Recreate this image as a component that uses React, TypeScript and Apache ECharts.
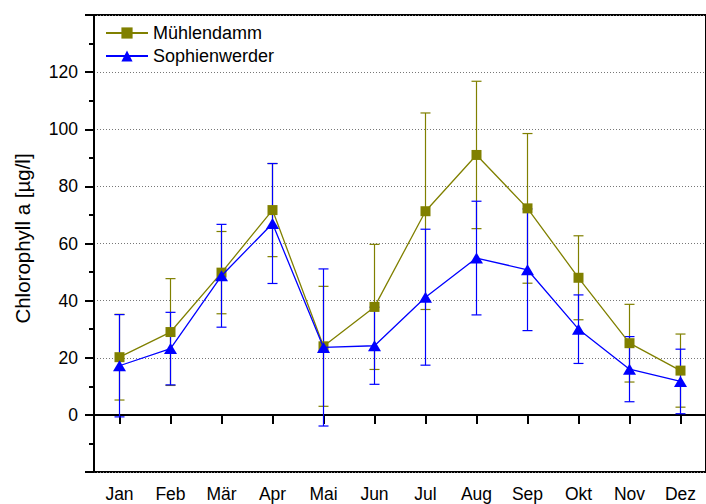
import React, { useEffect, useRef } from 'react';
import * as echarts from 'echarts';

// Monthly chlorophyll a means with standard deviations for two stations
const months = ['Jan', 'Feb', 'Mär', 'Apr', 'Mai', 'Jun', 'Jul', 'Aug', 'Sep', 'Okt', 'Nov', 'Dez'];
const muehlendammMean = [20.2, 29.0, 49.8, 71.7, 24.0, 37.8, 71.3, 91.0, 72.3, 48.0, 25.1, 15.5];
const muehlendammSd = [15.0, 18.7, 14.4, 16.3, 21.0, 21.9, 34.4, 25.8, 26.2, 14.7, 13.6, 12.8];
const sophienwerderMean = [17.2, 23.2, 48.7, 67.0, 23.6, 24.2, 41.2, 54.9, 50.8, 30.0, 16.0, 11.7];
const sophienwerderSd = [17.9, 12.7, 18.0, 21.0, 27.5, 13.5, 23.8, 19.9, 21.3, 12.0, 11.4, 11.3];

const yTicks = [0, 20, 40, 60, 80, 100, 120];

const OLIVE = '#808000';
const BLUE = '#0000ff';
const FONT = 'Liberation Sans, Arial, sans-serif';

function errorData(mean: number[], sd: number[]) {
  return mean.map((m, i) => [i, m - sd[i], m + sd[i]]);
}

function errorSeries(name: string, mean: number[], sd: number[], color: string, z: number) {
  return {
    type: 'custom',
    name,
    z,
    data: errorData(mean, sd),
    encode: { x: 0, y: [1, 2] },
    renderItem: (_params: any, api: any) => {
      const lo = api.coord([api.value(0), api.value(1)]);
      const hi = api.coord([api.value(0), api.value(2)]);
      const hw = 5;
      const style = { stroke: color, lineWidth: 1.2 };
      return {
        type: 'group',
        children: [
          { type: 'line', shape: { x1: lo[0], y1: lo[1], x2: hi[0], y2: hi[1] }, style },
          { type: 'line', shape: { x1: lo[0] - hw, y1: lo[1], x2: lo[0] + hw, y2: lo[1] }, style },
          { type: 'line', shape: { x1: hi[0] - hw, y1: hi[1], x2: hi[0] + hw, y2: hi[1] }, style },
        ],
      };
    },
  };
}

export default function App() {
  const ref = useRef<HTMLDivElement>(null);

  useEffect(() => {
    if (!ref.current) return;
    const chart = echarts.init(ref.current, undefined, { renderer: 'svg' });
    chart.setOption({
      animation: false,
      backgroundColor: '#ffffff',
      textStyle: { fontFamily: FONT },
      grid: {
        left: 94,
        right: -8,
        top: 15,
        bottom: 32,
        show: true,
        borderColor: '#000',
        borderWidth: 2,
        backgroundColor: 'transparent',
      },
      legend: {
        data: ['Mühlendamm', 'Sophienwerder'],
        orient: 'vertical',
        left: 105,
        top: 24,
        padding: 0,
        itemWidth: 42,
        itemHeight: 14,
        itemGap: 5,
        textStyle: { fontSize: 18, color: '#000', fontFamily: FONT },
      },
      xAxis: {
        type: 'category',
        data: months,
        boundaryGap: true,
        axisLine: { show: true, lineStyle: { color: '#000', width: 2 } },
        axisTick: { show: true, alignWithLabel: true, length: 9, lineStyle: { color: '#000', width: 2 } },
        axisLabel: { color: '#000', fontSize: 17.5, margin: 13, fontFamily: FONT },
        splitLine: { show: false },
      },
      yAxis: {
        type: 'value',
        min: -20,
        max: 140,
        interval: 20,
        name: 'Chlorophyll a [µg/l]',
        nameLocation: 'middle',
        nameGap: 61,
        nameTextStyle: { fontSize: 20.5, color: '#000', fontFamily: FONT, padding: [0, 0, 0, 10] },
        axisLine: { show: true, lineStyle: { color: '#000', width: 2 } },
        axisTick: { show: true, length: 9, lineStyle: { color: '#000', width: 2 } },
        minorTick: { show: true, splitNumber: 2, length: 5, lineStyle: { color: '#000', width: 2 } },
        axisLabel: {
          color: '#000',
          fontSize: 17.5,
          margin: 16,
          fontFamily: FONT,
          formatter: (v: number) => (yTicks.includes(v) ? String(v) : ''),
        },
        splitLine: { show: true, lineStyle: { color: '#777', width: 1, type: [1, 2] } },
      },
      series: [
        errorSeries('Mühlendamm SD', muehlendammMean, muehlendammSd, OLIVE, 1),
        errorSeries('Sophienwerder SD', sophienwerderMean, sophienwerderSd, BLUE, 2),
        {
          type: 'line',
          name: 'Mühlendamm',
          data: muehlendammMean,
          z: 3,
          symbol: 'rect',
          symbolSize: 10,
          itemStyle: { color: OLIVE },
          lineStyle: { color: OLIVE, width: 1.3 },
        },
        {
          type: 'line',
          name: 'Sophienwerder',
          data: sophienwerderMean,
          z: 4,
          symbol: 'triangle',
          symbolSize: [13, 11],
          itemStyle: { color: BLUE },
          lineStyle: { color: BLUE, width: 1.3 },
        },
      ],
    });
    return () => chart.dispose();
  }, []);

  return (
    <div
      ref={ref}
      style={{ position: 'fixed', left: 0, top: 0, width: 706, height: 504, background: '#fff' }}
    />
  );
}
